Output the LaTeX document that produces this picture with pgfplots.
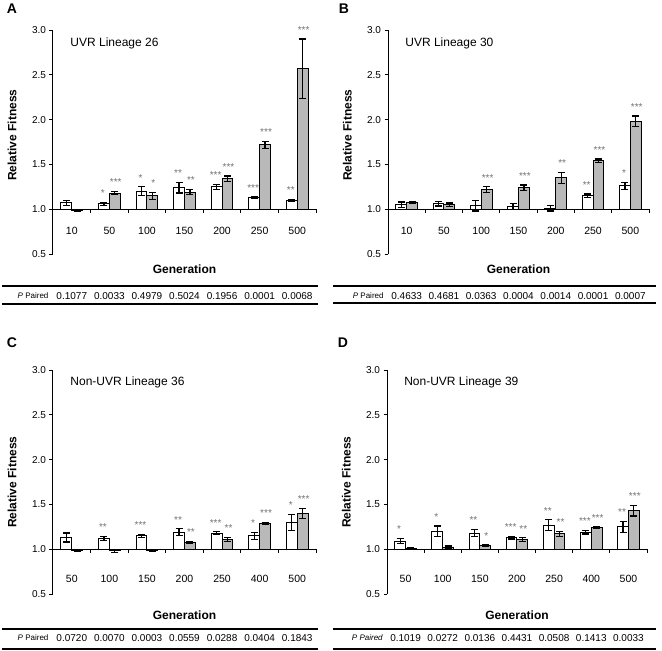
\documentclass[border=0pt]{standalone}
\usepackage{fontspec}
\setmainfont{Liberation Sans}
\usepackage{pgfplots}
\usepackage{pgfplotstable}
\pgfplotsset{compat=1.18}

\definecolor{barg}{RGB}{185,185,185}
\definecolor{stargray}{RGB}{115,115,115}

\pgfplotstableread{
x w we ws g ge gs
0 1.07 0.03 {} 0.99 0.01 {}
1 1.06 0.015 * 1.18 0.02 ***
2 1.20 0.05 * 1.15 0.04 *
3 1.24 0.06 ** 1.19 0.03 **
4 1.25 0.03 *** 1.34 0.03 ***
5 1.13 0.01 *** 1.72 0.04 ***
6 1.10 0.01 ** 2.57 0.33 ***
}\tabA
\pgfplotstableread{
x w we ws g ge gs
0 1.05 0.03 {} 1.07 0.01 {}
1 1.06 0.025 {} 1.05 0.02 {}
2 1.04 0.06 {} 1.22 0.03 ***
3 1.03 0.03 {} 1.24 0.03 ***
4 1.01 0.03 {} 1.35 0.06 **
5 1.15 0.02 ** 1.54 0.02 ***
6 1.26 0.04 * 1.98 0.06 ***
}\tabB
\pgfplotstableread{
x w we ws g ge gs
0 1.13 0.05 {} 0.99 0.01 {}
1 1.12 0.025 ** 0.98 0.02 {}
2 1.15 0.015 *** 0.99 0.01 {}
3 1.19 0.04 ** 1.08 0.01 **
4 1.18 0.015 *** 1.11 0.025 **
5 1.15 0.04 * 1.29 0.01 ***
6 1.30 0.09 * 1.40 0.055 ***
}\tabC
\pgfplotstableread{
x w we ws g ge gs
0 1.09 0.03 * 1.01 0.005 {}
1 1.20 0.06 * 1.02 0.015 {}
2 1.18 0.04 ** 1.04 0.01 *
3 1.13 0.015 *** 1.11 0.02 **
4 1.27 0.06 ** 1.17 0.03 **
5 1.19 0.02 *** 1.24 0.01 ***
6 1.25 0.06 ** 1.43 0.06 ***
}\tabD

\newcommand\fsz[1]{\fontsize{#1}{#1}\selectfont}

\pgfplotsset{
  panel/.style={
    scale only axis, height=224pt, anchor=south west,
    ymin=0.5, ymax=3, xmin=-0.5, xmax=6.5, clip=false,
    y coord trafo/.code={\pgfmathparse{##1-1}},
    y coord inv trafo/.code={\pgfmathparse{##1+1}},
    ybar, bar width=0.29,
    axis y line*=left, axis x line*=bottom,
    x axis line style={draw=none},
    y axis line style={line width=1pt, black},
    xtick={0,...,6},
    xtick style={draw=none},
    ytick={0.5,1,1.5,2,2.5,3},
    tick align=outside, major tick length=3.5pt,
    ytick style={line width=0.8pt, black},
    /pgf/number format/fixed, /pgf/number format/fixed zerofill,
    /pgf/number format/precision=1, /pgf/number format/assume math mode=true,
    yticklabel style={font=\fsz{10}},
    xticklabel style={font=\fsz{10.5}, anchor=center},
    xlabel={Generation}, ylabel={Relative Fitness},
    xlabel style={font=\bfseries\fsz{12}, anchor=center},
    ylabel style={font=\bfseries\fsz{12}, anchor=center},
  },
  ebar/.style={
    error bars/.cd, y dir=both, y explicit,
    error bar style={line width=1.2pt, black},
    error mark options={rotate=90, mark size=3.5pt, line width=1.2pt, black},
    /pgfplots/.cd},
  wbar/.style={fill=white, draw=black, line width=1pt, bar shift=-0.145, ebar,
    nodes near coords style={xshift=-1pt}},
  gbar/.style={fill=barg, draw=black, line width=1pt, bar shift=0.145, ebar,
    nodes near coords style={xshift=1pt}},
  stars/.style={nodes near coords, point meta=explicit symbolic,
    nodes near coords style={font=\fsz{10}, text=stargray, anchor=south, inner sep=0pt, yshift=\sh pt}},
}

\newcommand\basel{%
  \draw[line width=1pt, black] (axis cs:-0.5,1) -- (axis cs:6.5,1);
  \pgfplotsinvokeforeach{0.5,1.5,2.5,3.5,4.5,5.5,6.5}{\draw[line width=0.8pt, black] (axis cs:##1,1) -- ++(0pt,-4pt);}
}
\newcommand\prow[9]{%
  \node[font=\fsz{8}, anchor=center, yshift=#1] at (axis cs:-1.03,0.5) {#2};
  \node[font=\fsz{10}, anchor=center, yshift=#1] at (axis cs:0,0.5) {#3};
  \node[font=\fsz{10}, anchor=center, yshift=#1] at (axis cs:1,0.5) {#4};
  \node[font=\fsz{10}, anchor=center, yshift=#1] at (axis cs:2,0.5) {#5};
  \node[font=\fsz{10}, anchor=center, yshift=#1] at (axis cs:3,0.5) {#6};
  \node[font=\fsz{10}, anchor=center, yshift=#1] at (axis cs:4,0.5) {#7};
  \node[font=\fsz{10}, anchor=center, yshift=#1] at (axis cs:5,0.5) {#8};
  \node[font=\fsz{10}, anchor=center, yshift=#1] at (axis cs:6,0.5) {#9};
}

\begin{document}
\begin{tikzpicture}
\path[use as bounding box] (0pt,0pt) rectangle (662pt,-651pt);

% ---------- A ----------
\begin{axis}[panel, at={(53pt,-254pt)}, width=263pt,
  xticklabels={10,50,100,150,200,250,500},
  xticklabel style={yshift=27pt},
  xlabel style={at={(axis description cs:0.5,-0.067)}},
  ylabel style={at={(axis description cs:-0.156,0.53)}}]
\addplot[wbar, stars, visualization depends on={\thisrow{we}*89.6+5 \as \sh}] table[x=x, y=w, y error=we, meta=ws] {\tabA};
\addplot[gbar, stars, visualization depends on={\thisrow{ge}*89.6+5 \as \sh}] table[x=x, y=g, y error=ge, meta=gs] {\tabA};
\basel
\node[anchor=west, font=\fsz{12}] at (rel axis cs:0.053,0.942) {UVR Lineage 26};
\prow{-42pt}{{\itshape P} Paired}{0.1077}{0.0033}{0.4979}{0.5024}{0.1956}{0.0001}{0.0068}
\end{axis}

% ---------- B ----------
\begin{axis}[panel, at={(388pt,-254pt)}, width=261pt,
  xticklabels={10,50,100,150,200,250,500},
  xticklabel style={yshift=27pt},
  xlabel style={at={(axis description cs:0.5,-0.067)}},
  ylabel style={at={(axis description cs:-0.156,0.53)}}]
\addplot[wbar, stars, visualization depends on={\thisrow{we}*89.6+5 \as \sh}] table[x=x, y=w, y error=we, meta=ws] {\tabB};
\addplot[gbar, stars, visualization depends on={\thisrow{ge}*89.6+5 \as \sh}] table[x=x, y=g, y error=ge, meta=gs] {\tabB};
\basel
\node[anchor=west, font=\fsz{12}] at (rel axis cs:0.053,0.942) {UVR Lineage 30};
\prow{-42pt}{{\itshape P} Paired}{0.4633}{0.4681}{0.0363}{0.0004}{0.0014}{0.0001}{0.0007}
\end{axis}

% ---------- C ----------
\begin{axis}[panel, at={(53pt,-594pt)}, width=263pt,
  xticklabels={50,100,150,200,250,400,500},
  xticklabel style={yshift=19pt},
  xlabel style={at={(axis description cs:0.5,-0.094)}},
  ylabel style={at={(axis description cs:-0.156,0.5)}}]
\addplot[wbar, stars, visualization depends on={\thisrow{we}*89.6+5 \as \sh}] table[x=x, y=w, y error=we, meta=ws] {\tabC};
\addplot[gbar, stars, visualization depends on={\thisrow{ge}*89.6+5 \as \sh}] table[x=x, y=g, y error=ge, meta=gs] {\tabC};
\basel
\node[anchor=west, font=\fsz{12}] at (rel axis cs:0.053,0.946) {Non-UVR Lineage 36};
\prow{-44pt}{{\itshape P} Paired}{0.0720}{0.0070}{0.0003}{0.0559}{0.0288}{0.0404}{0.1843}
\end{axis}

% ---------- D ----------
\begin{axis}[panel, at={(387pt,-594pt)}, width=260pt,
  xticklabels={50,100,150,200,250,400,500},
  xticklabel style={yshift=19pt},
  xlabel style={at={(axis description cs:0.5,-0.094)}},
  ylabel style={at={(axis description cs:-0.156,0.5)}}]
\addplot[wbar, stars, visualization depends on={\thisrow{we}*89.6+5 \as \sh}] table[x=x, y=w, y error=we, meta=ws] {\tabD};
\addplot[gbar, stars, visualization depends on={\thisrow{ge}*89.6+5 \as \sh}] table[x=x, y=g, y error=ge, meta=gs] {\tabD};
\basel
\node[anchor=west, font=\fsz{12}] at (rel axis cs:0.053,0.946) {Non-UVR Lineage 39};
\prow{-44pt}{{\itshape P Paired}}{0.1019}{0.0272}{0.0136}{0.4431}{0.0508}{0.1413}{0.0033}
\end{axis}

% table rules
\draw[line width=1.2pt] (2pt,-286pt) -- (318pt,-286pt);
\draw[line width=1.4pt] (2pt,-304pt) -- (318pt,-304pt);
\draw[line width=1.2pt] (333pt,-286pt) -- (656pt,-286pt);
\draw[line width=1.4pt] (333pt,-303pt) -- (656pt,-303pt);
\draw[line width=1.2pt] (2pt,-629pt) -- (318pt,-629pt);
\draw[line width=1.4pt] (2pt,-649pt) -- (318pt,-649pt);
\draw[line width=1.2pt] (333pt,-629pt) -- (656pt,-629pt);
\draw[line width=1.4pt] (333pt,-649pt) -- (656pt,-649pt);

% panel letters
\node[font=\bfseries\fsz{14}] at (12pt,-9pt) {A};
\node[font=\bfseries\fsz{14}] at (344pt,-9pt) {B};
\node[font=\bfseries\fsz{14}] at (12pt,-343pt) {C};
\node[font=\bfseries\fsz{14}] at (343pt,-343pt) {D};
\end{tikzpicture}
\end{document}
